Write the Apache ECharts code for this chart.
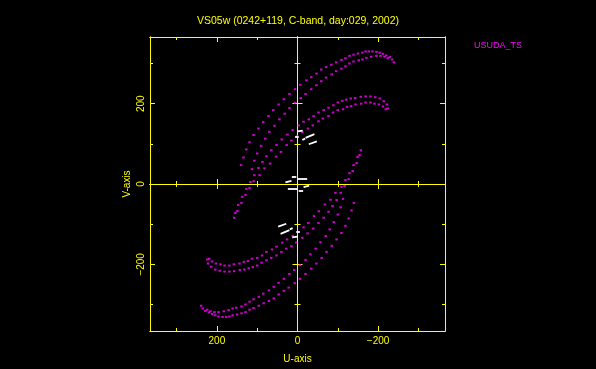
<!DOCTYPE html>
<html>
<head>
<meta charset="utf-8">
<script src="https://cdn.jsdelivr.net/npm/echarts@6/dist/echarts.min.js"></script>
<style>
html,body{margin:0;padding:0;background:#000;}
#chart{width:596px;height:369px;}
</style>
</head>
<body>
<div id="chart"></div>
<script>
// ---------------- data ----------------
const titleText = 'VS05w (0242+119, C-band, day:029, 2002)';
const seriesName = 'USUDA_TS';
const xName = 'U-axis';
const yName = 'V-axis';
const axisExtent = [-366, 366];
const labelTicks = [-200, 0, 200];
const majorTicks = [-200, 200];
const minorTicks = [-300, -100, 100, 300];

// upper half tracks (U, V)
const arcAOuterUpper = [[140,47],[134,66],[127,86],[119,104],[109,122],[97,138],[85,154],[72,169],[60,184],[47,198],[34,211],[20,224],[6,236],[-7,247],[-22,258],[-34,266],[-47,275],[-59,285],[-71,291],[-84,297],[-96,303],[-109,309],[-119,313],[-129,319],[-139,322],[-150,325],[-161,327],[-169,330],[-177,330],[-186,330],[-196,329],[-204,327],[-212,324],[-220,320],[-229,316],[-235,310],[-239,303]];
const arcAInnerUpper = [[113,37],[107,58],[100,76],[90,95],[80,113],[70,130],[57,145],[45,161],[32,175],[20,189],[6,202],[-8,214],[-20,224],[-34,236],[-47,246],[-59,256],[-71,265],[-85,273],[-96,281],[-109,287],[-119,293],[-129,300],[-139,305],[-152,308],[-161,310],[-171,314],[-183,317],[-196,319],[-206,319],[-216,317],[-224,313]];
const arcBOuterUpper = [[-224,188],[-222,198],[-214,206],[-204,213],[-193,216],[-181,218],[-169,218],[-157,217],[-143,214],[-132,213],[-121,210],[-111,207],[-100,203],[-89,196],[-77,190],[-65,184],[-52,178],[-40,169],[-28,161],[-15,155],[-3,146],[12,134],[25,123],[39,111],[52,97],[65,84],[77,69],[87,55],[97,40],[107,22],[117,5],[127,-12],[137,-32],[147,-52],[154,-72]];
const arcBInnerUpper = [[-219,186],[-212,193],[-202,198],[-191,200],[-181,203],[-169,203],[-158,200],[-144,198],[-133,194],[-123,192],[-113,186],[-100,184],[-88,178],[-77,169],[-63,163],[-52,156],[-38,146],[-26,138],[-12,129],[1,119],[15,108],[27,97],[41,80],[53,68],[68,51],[82,39],[94,22],[109,7],[119,-10],[129,-27],[139,-47],[149,-67],[157,-84]];

// lower half tracks (U, V)
const arcAOuterLower = [[-140,-47],[-134,-66],[-127,-86],[-119,-104],[-109,-122],[-97,-138],[-85,-154],[-72,-169],[-60,-184],[-47,-198],[-34,-211],[-20,-224],[-6,-236],[7,-247],[22,-258],[34,-266],[47,-275],[59,-285],[71,-291],[84,-297],[96,-303],[109,-309],[119,-313],[129,-319],[139,-322],[150,-325],[161,-327],[169,-330],[177,-331],[186,-331],[196,-330],[204,-327],[212,-324],[220,-320],[229,-316],[235,-310],[239,-303]];
const arcAInnerLower = [[-113,-37],[-107,-58],[-100,-76],[-90,-95],[-80,-113],[-70,-130],[-57,-145],[-45,-161],[-32,-175],[-20,-189],[-6,-202],[8,-214],[20,-224],[34,-236],[47,-246],[59,-256],[71,-265],[85,-273],[96,-281],[109,-287],[119,-293],[129,-300],[139,-305],[152,-308],[161,-310],[171,-314],[183,-317],[196,-319],[206,-319],[216,-317],[224,-313]];
const arcBOuterLower = [[224,-188],[222,-198],[214,-206],[204,-213],[193,-216],[181,-218],[169,-218],[157,-217],[143,-214],[132,-213],[121,-210],[111,-207],[100,-203],[89,-196],[77,-190],[65,-184],[52,-178],[40,-169],[28,-161],[15,-155],[3,-146],[-12,-134],[-25,-123],[-39,-111],[-52,-97],[-65,-84],[-77,-69],[-87,-55],[-97,-40],[-107,-22],[-117,-5],[-127,12],[-137,32],[-147,52],[-154,72]];
const arcBInnerLower = [[219,-186],[212,-193],[202,-198],[191,-200],[181,-203],[169,-203],[158,-200],[144,-198],[133,-194],[123,-192],[113,-186],[100,-184],[88,-178],[77,-169],[63,-163],[52,-156],[38,-146],[26,-138],[12,-129],[-1,-119],[-15,-108],[-27,-97],[-41,-80],[-53,-68],[-68,-51],[-82,-39],[-94,-22],[-109,-7],[-119,10],[-129,27],[-139,47],[-149,67],[-157,84]];

// short white dashes near the centre (other baselines)
const whiteDashes = [
  [[0,131],[-13,133]], [[6,118],[-3,118]], [[-12,110],[-19,113]], [[-20,115],[-42,124]], [[-28,99],[-48,106]],
  [[30,4],[15,8]], [[14,17],[3,17]], [[0,12],[-24,12]],
  [[24,-12],[0,-12]], [[-15,-8],[-29,-4]], [[-3,-17],[-14,-17]],
  [[0,-131],[13,-133]], [[-6,-118],[3,-118]], [[12,-110],[19,-113]], [[20,-115],[42,-124]], [[28,-99],[48,-106]]
];

// ---------------- chart ----------------
const YEL = '#ffff00';
const MAG = '#ff00ff';
const FONT = 'Liberation Sans';

function makeAxis(dim, position, ticks, len, inside, onZero, extra) {
  const a = {
    type: 'value',
    min: axisExtent[0], max: axisExtent[1],
    position: position,
    inverse: dim === 'x',
    splitLine: {show: false},
    axisLine: {show: true, onZero: onZero, lineStyle: {color: YEL, width: 1}},
    axisTick: {show: true, inside: inside, length: len, customValues: ticks, lineStyle: {color: YEL, width: 1}},
    axisLabel: {show: false},
    z: 3
  };
  if (onZero) a.axisLine.onZeroAxisIndex = 0;
  return Object.assign(a, extra || {});
}

const xAxes = [
  makeAxis('x', 'bottom', majorTicks, 5, true, false, {
    name: xName, nameLocation: 'middle', nameGap: 23,
    nameTextStyle: {color: YEL, fontSize: 10, fontFamily: FONT},
    axisLabel: {show: true, customValues: labelTicks, color: YEL, fontSize: 10, fontFamily: FONT, margin: 5,
      formatter: v => v < 0 ? '\u2212' + Math.abs(v) : String(v)}
  }),
  makeAxis('x', 'bottom', minorTicks, 3, true, false),
  makeAxis('x', 'top', majorTicks, 5, true, false),
  makeAxis('x', 'top', minorTicks, 3, true, false),
  makeAxis('x', 'bottom', majorTicks, 5, true, true),
  makeAxis('x', 'bottom', majorTicks, 5, false, true),
  makeAxis('x', 'bottom', minorTicks, 3, true, true),
  makeAxis('x', 'bottom', minorTicks, 3, false, true)
];
const yAxes = [
  makeAxis('y', 'left', majorTicks, 5, true, false, {
    name: yName, nameLocation: 'middle', nameGap: 18,
    nameTextStyle: {color: YEL, fontSize: 10, fontFamily: FONT},
    axisLabel: {show: true, customValues: labelTicks, color: YEL, fontSize: 10, fontFamily: FONT, margin: 4, rotate: 90,
      formatter: v => v < 0 ? '\u2212' + Math.abs(v) : String(v)}
  }),
  makeAxis('y', 'left', minorTicks, 3, true, false),
  makeAxis('y', 'right', majorTicks, 5, true, false),
  makeAxis('y', 'right', minorTicks, 3, true, false),
  makeAxis('y', 'left', majorTicks, 5, true, true),
  makeAxis('y', 'left', majorTicks, 5, false, true),
  makeAxis('y', 'left', minorTicks, 3, true, true),
  makeAxis('y', 'left', minorTicks, 3, false, true)
];

const magentaPoints = [].concat(arcAOuterUpper, arcAInnerUpper, arcBOuterUpper, arcBInnerUpper,
  arcAOuterLower, arcAInnerLower, arcBOuterLower, arcBInnerLower);

const chart = echarts.init(document.getElementById('chart'), null, {renderer: 'canvas'});
chart.setOption({
  backgroundColor: '#000000',
  animation: false,
  title: {
    text: titleText, left: 'center', top: 11,
    textStyle: {color: YEL, fontSize: 10.5, fontWeight: 'normal', fontFamily: FONT}
  },
  legend: {
    data: [seriesName], left: 464, top: 36, icon: 'none', itemWidth: 0, itemHeight: 8, itemGap: 0,
    textStyle: {color: MAG, fontSize: 9, fontWeight: 'normal', fontFamily: FONT}
  },
  grid: {left: 150, right: 151, top: 37, bottom: 38},
  xAxis: xAxes,
  yAxis: yAxes,
  series: [
    {
      name: seriesName, type: 'scatter', symbol: 'rect', symbolSize: [2.5, 2],
      itemStyle: {color: MAG}, data: magentaPoints, silent: true, z: 4
    },
    {
      name: 'other', type: 'lines', coordinateSystem: 'cartesian2d', polyline: false,
      lineStyle: {color: '#ffffff', width: 1.8, opacity: 1, curveness: 0},
      data: whiteDashes.map(c => ({coords: c})), silent: true, z: 5
    }
  ]
});
</script>
</body>
</html>
